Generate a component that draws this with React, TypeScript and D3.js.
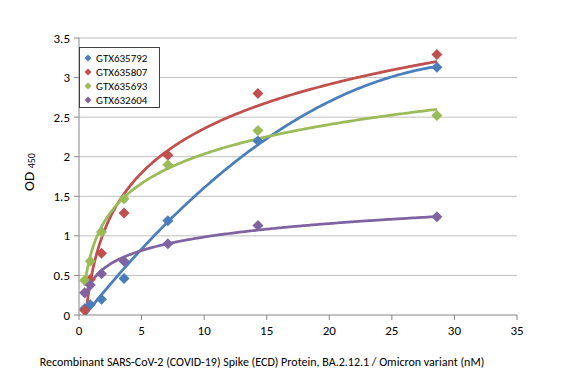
import React from "react";
import * as d3 from "d3";

const concentrations = [0.45, 0.9, 1.8, 3.6, 7.1, 14.3, 28.6];
const seriesNames = ["GTX635792", "GTX635807", "GTX635693", "GTX632604"];
const valuesGTX635792 = [0.08, 0.13, 0.2, 0.46, 1.19, 2.2, 3.13];
const valuesGTX635807 = [0.06, 0.45, 0.78, 1.29, 2.02, 2.8, 3.29];
const valuesGTX635693 = [0.44, 0.68, 1.05, 1.47, 1.9, 2.33, 2.52];
const valuesGTX632604 = [0.28, 0.38, 0.52, 0.68, 0.9, 1.13, 1.24];
const fitTypes = ["poly2", "log", "log", "log"];
const colors = ["#4A7EBB", "#C0504D", "#9BBB59", "#8064A2"];
const xTicks = [0, 5, 10, 15, 20, 25, 30, 35];
const yTicks = [0, 0.5, 1, 1.5, 2, 2.5, 3, 3.5];

const W = 582, H = 378;
const m = { left: 79, right: 65, top: 38, bottom: 63 };

function fitLog(xs: number[], ys: number[]) {
  const lx = xs.map(Math.log);
  const mx = d3.mean(lx)!, my = d3.mean(ys)!;
  let sxy = 0, sxx = 0;
  lx.forEach((v, i) => { sxy += (v - mx) * (ys[i] - my); sxx += (v - mx) ** 2; });
  const a = sxy / sxx, b = my - a * mx;
  return (x: number) => a * Math.log(x) + b;
}

function fitPoly2(xs: number[], ys: number[]) {
  const S = (p: number) => d3.sum(xs, (x) => x ** p);
  const T = (p: number) => d3.sum(xs, (x, i) => x ** p * ys[i]);
  const A = [
    [S(0), S(1), S(2), T(0)],
    [S(1), S(2), S(3), T(1)],
    [S(2), S(3), S(4), T(2)],
  ];
  for (let i = 0; i < 3; i++) {
    let p = i;
    for (let r = i + 1; r < 3; r++) if (Math.abs(A[r][i]) > Math.abs(A[p][i])) p = r;
    [A[i], A[p]] = [A[p], A[i]];
    for (let r = 0; r < 3; r++) {
      if (r === i) continue;
      const f = A[r][i] / A[i][i];
      for (let c = i; c < 4; c++) A[r][c] -= f * A[i][c];
    }
  }
  const c = [A[0][3] / A[0][0], A[1][3] / A[1][1], A[2][3] / A[2][2]];
  return (x: number) => c[0] + c[1] * x + c[2] * x * x;
}

export default function App() {
  const x = d3.scaleLinear().domain([0, 35]).range([m.left, W - m.right]);
  const y = d3.scaleLinear().domain([0, 3.5]).range([H - m.bottom, m.top]);
  const allValues = [valuesGTX635792, valuesGTX635807, valuesGTX635693, valuesGTX632604];
  const font = "Carlito, 'Liberation Sans', Arial, sans-serif";

  const lo = d3.min(concentrations)!, hi = d3.max(concentrations)!;
  const samples = d3.range(0, 201).map((i) => lo + ((hi - lo) * i) / 200);

  const diamond = (cx: number, cy: number, r: number) =>
    `M${cx},${cy - r}L${cx + r},${cy}L${cx},${cy + r}L${cx - r},${cy}Z`;

  return (
    <svg width={W} height={H} style={{ position: "absolute", left: 0, top: 0, background: "#fff" }} fontFamily={font}>
      <defs>
        <clipPath id="plot">
          <rect x={m.left} y={m.top - 10} width={W - m.left - m.right + 10} height={H - m.top - m.bottom + 10} />
        </clipPath>
      </defs>
      {yTicks.map((t) => (
        <g key={t}>
          {t > 0 && <line x1={m.left} x2={W - m.right} y1={y(t)} y2={y(t)} stroke="#BFBFBF" strokeWidth={1} />}
          <line x1={m.left - 5} x2={m.left} y1={y(t)} y2={y(t)} stroke="#868686" />
          <text x={m.left - 9} y={y(t)} dy="0.35em" textAnchor="end" fontSize={13} fill="#000">{t}</text>
        </g>
      ))}
      <line x1={m.left} x2={m.left} y1={m.top} y2={H - m.bottom} stroke="#868686" />
      <line x1={m.left} x2={W - m.right} y1={H - m.bottom} y2={H - m.bottom} stroke="#868686" />
      {xTicks.map((t) => (
        <g key={t}>
          <line x1={x(t)} x2={x(t)} y1={H - m.bottom} y2={H - m.bottom + 5} stroke="#868686" />
          <text x={x(t)} y={H - m.bottom + 20} textAnchor="middle" fontSize={13} fill="#000">{t}</text>
        </g>
      ))}
      <g clipPath="url(#plot)">
        {allValues.map((vals, si) => {
          const f = fitTypes[si] === "log" ? fitLog(concentrations, vals) : fitPoly2(concentrations, vals);
          const line = d3.line<number>().x((d) => x(d)).y((d) => y(Math.max(f(d), -0.05)));
          return (
            <path key={si} d={line(samples.filter((d) => f(d) >= -0.05)) || ""} fill="none" stroke={colors[si]} strokeWidth={2.75} />
          );
        })}
        {allValues.map((vals, si) =>
          vals.map((v, i) => (
            <path key={`${si}-${i}`} d={diamond(x(concentrations[i]), y(v), 5.5)} fill={colors[si]} />
          ))
        )}
      </g>
      <g>
        <rect x={79.5} y={47.5} width={80} height={60} fill="#fff" stroke="#404040" strokeWidth={1} />
        {seriesNames.map((n, i) => (
          <g key={n}>
            <path d={diamond(88, 58 + i * 14, 3.5)} fill={colors[i]} />
            <text x={96} y={58 + i * 14} dy="0.35em" fontSize={11} fill="#000">{n}</text>
          </g>
        ))}
      </g>
      <text transform={`translate(34,172) rotate(-90)`} textAnchor="middle" fontSize={15} fill="#000">
        OD <tspan fontSize={10} dy={1}>450</tspan>
      </text>
      <text x={262} y={366} textAnchor="middle" fontSize={12} fill="#000">
        Recombinant SARS-CoV-2  (COVID-19) Spike (ECD)  Protein, BA.2.12.1  / Omicron variant (nM)
      </text>
    </svg>
  );
}
